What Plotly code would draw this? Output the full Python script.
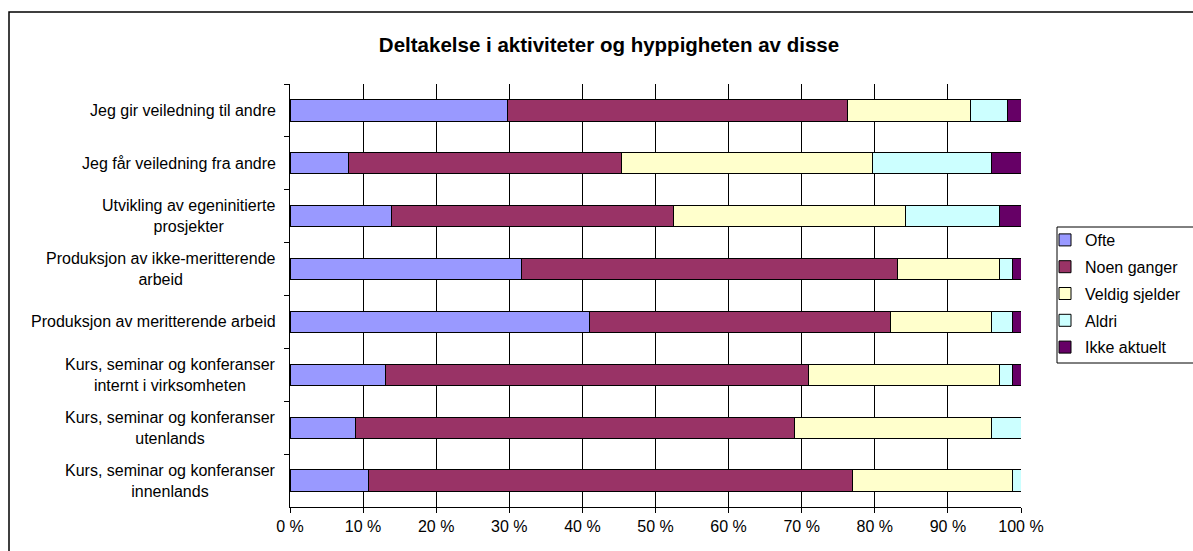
import plotly.graph_objects as go

categories = [
    "Jeg gir veiledning til andre",
    "Jeg får veiledning fra andre",
    "Utvikling av egeninitierte<br>prosjekter",
    "Produksjon av ikke-meritterende<br>arbeid",
    "Produksjon av meritterende arbeid",
    "Kurs, seminar og konferanser<br>internt i virksomheten",
    "Kurs, seminar og konferanser<br>utenlands",
    "Kurs, seminar og konferanser<br>innenlands",
]
cat_ids = [f"c{i}" for i in range(len(categories))]

series_names = ["Ofte", "Noen ganger", "Veldig sjelder", "Aldri", "Ikke aktuelt"]
ofte = [29.7, 8.0, 13.9, 31.7, 41.0, 13.0, 8.9, 10.8]
noen_ganger = [46.5, 37.4, 38.6, 51.4, 41.1, 57.9, 60.1, 66.1]
veldig_sjelder = [16.9, 34.3, 31.7, 14.0, 13.8, 26.1, 26.9, 22.0]
aldri = [5.0, 16.2, 12.8, 1.8, 3.0, 1.9, 4.1, 1.1]
ikke_aktuelt = [1.9, 4.1, 3.0, 1.1, 1.1, 1.1, 0.0, 0.0]
colors = ["#9999FF", "#993366", "#FFFFCC", "#CCFFFF", "#660066"]

x_ticks = list(range(0, 101, 10))
x_ticktext = [f"{v} %" for v in x_ticks]

FONT = "Liberation Sans, Arial, sans-serif"

# plot area geometry (pixels)
L, R, T, B = 290, 1021, 84, 507
W, H = 1193, 551
PW, PH = R - L, B - T


def px(x):
    return (x - L) / PW


def py(y):
    return (B - y) / PH


fig = go.Figure()
for name, vals, col in zip(series_names,
                           [ofte, noen_ganger, veldig_sjelder, aldri, ikke_aktuelt],
                           colors):
    fig.add_trace(go.Bar(
        y=cat_ids, x=vals, name=name, orientation="h", legendgroup=name,
        marker=dict(color=col, line=dict(color="#000000", width=1)),
    ))

annotations = []
for cid, label in zip(cat_ids, categories):
    annotations.append(dict(
        x=0, xref="paper", y=cid, yref="y", text=label, showarrow=False,
        xanchor="right", yanchor="middle", align="center", xshift=-12,
        font=dict(family=FONT, size=16, color="#000000"),
    ))

fig.update_layout(
    barmode="stack",
    bargap=0.6,
    width=W, height=H,
    margin=dict(l=L, r=W - R, t=T, b=H - B, autoexpand=False),
    paper_bgcolor="white", plot_bgcolor="white",
    font=dict(family=FONT, size=16, color="#000000"),
    title=dict(text="<b>Deltakelse i aktiviteter og hyppigheten av disse</b>",
               x=609 / W, xanchor="center", y=1 - 45 / H, yanchor="middle",
               font=dict(family=FONT, size=20.5, color="#000000")),
    xaxis=dict(range=[0, 100], tickvals=x_ticks, ticktext=x_ticktext,
               showgrid=True, gridcolor="#000000", gridwidth=1,
               showline=True, linecolor="#000000", linewidth=1,
               ticks="outside", ticklen=5, tickcolor="#000000",
               zeroline=False, fixedrange=True,
               tickfont=dict(family=FONT, size=16)),
    yaxis=dict(categoryorder="array", categoryarray=cat_ids, autorange="reversed",
               showticklabels=False, showgrid=False,
               showline=True, linecolor="#000000", linewidth=1,
               ticks="outside", ticklen=5, tickcolor="#000000",
               tickson="boundaries", zeroline=False),
    legend=dict(x=px(1045), xanchor="left",
                y=py(223), yanchor="top",
                borderwidth=0, bgcolor="rgba(0,0,0,0)",
                font=dict(family=FONT, size=16), traceorder="grouped",
                tracegroupgap=3, itemclick=False),
    showlegend=True,
    annotations=annotations,
    shapes=[
        dict(type="rect", xref="paper", yref="paper",
             x0=px(9), x1=px(1210), y0=py(570), y1=py(12),
             line=dict(color="#000000", width=1.5), fillcolor="rgba(0,0,0,0)",
             layer="below"),
        dict(type="rect", xref="paper", yref="paper",
             x0=px(1057), x1=px(1205), y0=py(363), y1=py(227),
             line=dict(color="#000000", width=1), fillcolor="white",
             layer="below"),
    ],
)

fig.write_html("out.html", config={"displayModeBar": False},
               post_script="document.body.style.margin='0';")
